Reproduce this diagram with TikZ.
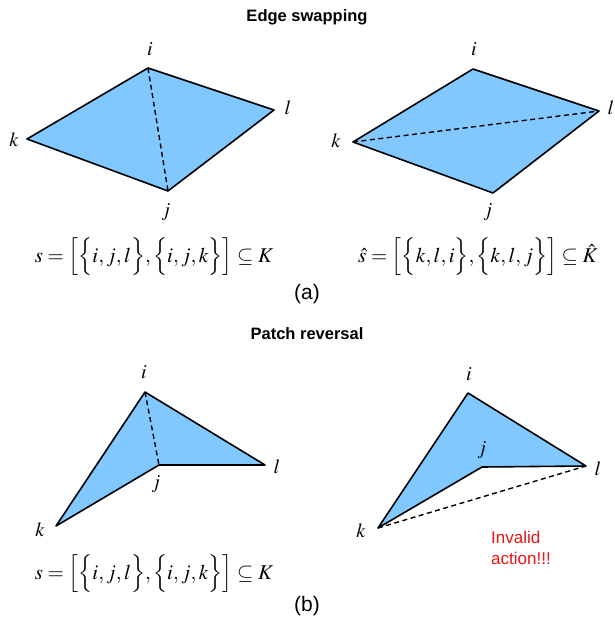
\documentclass[tikz,border=0pt]{standalone}
\usepackage{mathptmx}
\usepackage{fontspec}
\setsansfont{Liberation Sans}
\begin{document}
\begin{tikzpicture}[x=1pt,y=-1pt,
  face/.style={fill=fillblue,draw=none},
  edge/.style={draw=black,line width=1.6pt,line join=round},
  dedge/.style={draw=black,line width=1.4pt,dash pattern=on 5pt off 3.5pt},
  vlab/.style={inner sep=0pt,font=\fontsize{20}{24}\selectfont},
  formula/.style={inner sep=0pt,font=\fontsize{21}{25}\selectfont},
  title/.style={inner sep=0pt,font=\sffamily\bfseries\fontsize{16.5}{19}\selectfont},
  sublab/.style={inner sep=0pt,font=\sffamily\fontsize{21}{25}\selectfont},
  warn/.style={inner sep=0pt,align=left,text=warnred,font=\sffamily\fontsize{17}{21}\selectfont}]
\definecolor{fillblue}{RGB}{128,200,255}
\definecolor{warnred}{RGB}{235,20,20}
\useasboundingbox (0,0) rectangle (614,624);
% titles
\node[title] (t1) at (307,17) {Edge swapping};
\node[title] (t2) at (307,334) {Patch reversal};
\node[sublab] (sa) at (307,294) {(a)};
\node[sublab] (sb) at (307,606) {(b)};
% ---- top left
\coordinate (ai) at (148,68); \coordinate (al) at (274,110);
\coordinate (aj) at (168,191); \coordinate (ak) at (27,139);
\fill[fillblue] (ai) -- (al) -- (aj) -- (ak) -- cycle;
\draw[edge] (ai) -- (al) -- (aj) -- (ak) -- cycle;
\draw[dedge] (ai) -- (aj);
\node[vlab] (aiL) at (150,49) {$i$};
\node[vlab] (alL) at (288,108) {$l$};
\node[vlab] (ajL) at (166,212) {$j$};
\node[vlab] (akL) at (14,140) {$k$};
\node[formula] (fa) at (154,257) {$s=\Big[\Big\{i,j,l\Big\},\Big\{i,j,k\Big\}\Big]\subseteq K$};
% ---- top right
\coordinate (bi) at (473,69); \coordinate (bl) at (599,111);
\coordinate (bj) at (493,193); \coordinate (bk) at (353,142);
\fill[fillblue] (bi) -- (bl) -- (bj) -- (bk) -- cycle;
\draw[edge] (bi) -- (bl) -- (bj) -- (bk) -- cycle;
\draw[dedge] (bk) -- (bl);
\node[vlab] (biL) at (474,49) {$i$};
\node[vlab] (blL) at (611,108) {$l$};
\node[vlab] (bjL) at (488,212) {$j$};
\node[vlab] (bkL) at (336,141) {$k$};
\node[formula] (fb) at (478,257) {$\hat{s}=\Big[\Big\{k,l,i\Big\},\Big\{k,l,j\Big\}\Big]\subseteq \hat{K}$};
% ---- bottom left
\coordinate (ci) at (145,392); \coordinate (cl) at (265,465);
\coordinate (cj) at (159,465); \coordinate (ck) at (56,526);
\fill[fillblue] (ci) -- (cl) -- (cj) -- (ck) -- cycle;
\draw[edge] (ci) -- (cl) -- (cj) -- (ck) -- cycle;
\draw[dedge] (ci) -- (cj);
\node[vlab] (ciL) at (144,372) {$i$};
\node[vlab] (clL) at (277,467) {$l$};
\node[vlab] (cjL) at (156,484) {$j$};
\node[vlab] (ckL) at (40,530) {$k$};
\node[formula] (fc) at (154,574) {$s=\Big[\Big\{i,j,l\Big\},\Big\{i,j,k\Big\}\Big]\subseteq K$};
% ---- bottom right
\coordinate (di) at (468,393); \coordinate (dl) at (586,466);
\coordinate (dj) at (482,467); \coordinate (dk) at (378,528);
\fill[fillblue] (di) -- (dl) -- (dj) -- (dk) -- cycle;
\draw[edge] (di) -- (dl) -- (dj) -- (dk) -- cycle;
\draw[dedge] (dk) -- (dl);
\node[vlab] (diL) at (469,374) {$i$};
\node[vlab] (dlL) at (598,469) {$l$};
\node[vlab] (djL) at (482,450) {$j$};
\node[vlab] (dkL) at (361,531) {$k$};
\node[warn] (inv) at (521,548) {Invalid\\action!!!};
\end{tikzpicture}
\end{document}
